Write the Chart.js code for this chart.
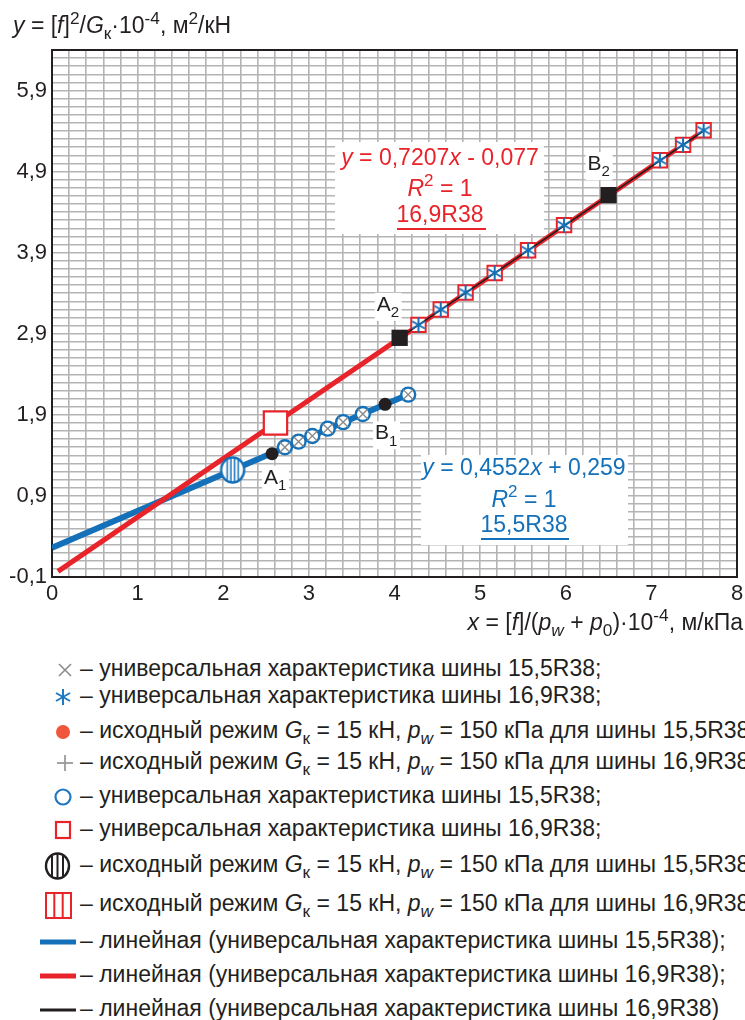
<!DOCTYPE html>
<html lang="ru">
<head>
<meta charset="utf-8">
<title>Универсальная характеристика шин</title>
<script src="https://cdn.jsdelivr.net/npm/chart.js@4.4.1/dist/chart.umd.min.js"></script>
<style>
  body { margin: 0; width: 745px; height: 1020px; overflow: hidden; background: #fff;
         font-family: "Liberation Sans", Arial, sans-serif; color: #231f20; position: relative; }
  #wrap { position: absolute; left: 0; top: 0; width: 745px; height: 640px; }
  .title { position: absolute; font-size: 23px; line-height: 22px; white-space: nowrap; }
  sup, sub { font-size: 75%; line-height: 0; position: relative; vertical-align: 0; }
  sup { top: -0.5em; }
  sub { top: 0.35em; }
  #legend { position: absolute; left: 0; top: 640px; width: 745px; height: 380px; }
  .row { position: absolute; left: 80px; font-size: 23px; line-height: 22px; white-space: nowrap; }
</style>
</head>
<body>
<div id="wrap"><canvas id="chart" width="745" height="640"></canvas></div>

<div class="title" style="left:13px; top:14px"><i>y</i> = [<i>f</i>]<sup>2</sup>/<i>G</i><sub>к</sub>·10<sup>-4</sup>, м<sup>2</sup>/кН</div>
<div class="title" style="right:2px; top:611px"><i>x</i> = [<i>f</i>]/(<i>p<sub>w</sub></i> + <i>p</i><sub>0</sub>)·10<sup>-4</sup>, м/кПа</div>

<div id="legend">
  <svg width="745" height="380" style="position:absolute;left:0;top:0">
    <g stroke="#8c8c8c" stroke-width="1.6"><line x1="59" y1="24" x2="71" y2="36"/><line x1="71" y1="24" x2="59" y2="36"/></g>
    <g stroke="#1f78c1" stroke-width="2"><line x1="63" y1="49" x2="63" y2="65"/><line x1="56" y1="53" x2="70" y2="61"/><line x1="70" y1="53" x2="56" y2="61"/></g>
    <circle cx="63" cy="92" r="7" fill="#f0563c"/>
    <g stroke="#9a9a9a" stroke-width="1.8"><line x1="57" y1="123" x2="73" y2="123"/><line x1="65" y1="115" x2="65" y2="131"/></g>
    <circle cx="63" cy="157" r="7.5" fill="none" stroke="#1f78c1" stroke-width="2.2"/>
    <rect x="56" y="182" width="14" height="16" fill="none" stroke="#e8232a" stroke-width="2.2"/>
    <g stroke="#231f20" stroke-width="2"><ellipse cx="57.5" cy="226" rx="11.5" ry="12.5" fill="none" stroke-width="2.4"/>
      <line x1="52" y1="215" x2="52" y2="237"/><line x1="57.5" y1="213.5" x2="57.5" y2="238.5"/><line x1="63" y1="215" x2="63" y2="237"/></g>
    <g stroke="#e8232a" stroke-width="2"><rect x="46" y="253" width="25" height="25" fill="none"/>
      <line x1="54.3" y1="253" x2="54.3" y2="278"/><line x1="62.7" y1="253" x2="62.7" y2="278"/></g>
    <line x1="40" y1="302" x2="76" y2="302" stroke="#1470b8" stroke-width="5"/>
    <line x1="40" y1="336" x2="76" y2="336" stroke="#e8232a" stroke-width="5"/>
    <line x1="40" y1="370" x2="76" y2="370" stroke="#231f20" stroke-width="3"/>
  </svg>
  <div class="row" style="top:17px">– универсальная характеристика шины 15,5R38;</div>
  <div class="row" style="top:44px">– универсальная характеристика шины 16,9R38;</div>
  <div class="row" style="top:79px">– исходный режим <i>G</i><sub>к</sub> = 15 кН, <i>p<sub>w</sub></i> = 150 кПа для шины 15,5R38;</div>
  <div class="row" style="top:110px">– исходный режим <i>G</i><sub>к</sub> = 15 кН, <i>p<sub>w</sub></i> = 150 кПа для шины 16,9R38;</div>
  <div class="row" style="top:144px">– универсальная характеристика шины 15,5R38;</div>
  <div class="row" style="top:177px">– универсальная характеристика шины 16,9R38;</div>
  <div class="row" style="top:213px">– исходный режим <i>G</i><sub>к</sub> = 15 кН, <i>p<sub>w</sub></i> = 150 кПа для шины 15,5R38;</div>
  <div class="row" style="top:252px">– исходный режим <i>G</i><sub>к</sub> = 15 кН, <i>p<sub>w</sub></i> = 150 кПа для шины 16,9R38;</div>
  <div class="row" style="top:289px">– линейная (универсальная характеристика шины 15,5R38);</div>
  <div class="row" style="top:323px">– линейная (универсальная характеристика шины 16,9R38);</div>
  <div class="row" style="top:357px">– линейная (универсальная характеристика шины 16,9R38)</div>
</div>

<script>
// universal characteristic, tyre 15,5R38
const tire155X = [2.72, 2.88, 3.04, 3.22, 3.40, 3.63, 4.16]
const tire155Y = [1.50, 1.57, 1.64, 1.73, 1.81, 1.91, 2.15]
// universal characteristic, tyre 16,9R38
const tire169X = [4.28, 4.54, 4.83, 5.17, 5.56, 5.98, 7.10, 7.37, 7.61]
const tire169Y = [3.01, 3.20, 3.41, 3.65, 3.93, 4.24, 5.04, 5.23, 5.41]
// initial mode Gк = 15 кН, pw = 150 кПа
const base155X = [2.11]
const base155Y = [1.22]
const base169X = [2.61]
const base169Y = [1.80]
// points A, B
const ab155X = [2.57, 3.89]
const ab155Y = [1.42, 2.03]
const ab169X = [4.06, 6.50]
const ab169Y = [2.85, 4.61]
// linear trends
const trend155X = [0, 4.18]
const trend155Y = [0.26, 2.16]
const trend169X = [0.07, 7.62]
const trend169Y = [-0.03, 5.41]
const fit169X = [4.06, 7.62]
const fit169Y = [2.85, 5.41]

const BLUE = "#1470b8"
const RED = "#e8232a"
const DARK = "#231f20"
const FONT = '"Liberation Sans", Arial, sans-serif'

const pts = (xs, ys) => xs.map((x, i) => ({ x, y: ys[i] }))

function hatchedCircle() {
  const c = document.createElement("canvas")
  c.width = 28
  c.height = 30
  const g = c.getContext("2d")
  g.beginPath()
  g.ellipse(14, 15, 11.5, 12.5, 0, 0, Math.PI * 2)
  g.fillStyle = "#fff"
  g.fill()
  g.save()
  g.clip()
  g.strokeStyle = BLUE
  g.lineWidth = 1.5
  for (const x of [8.5, 12.2, 15.8, 19.5]) {
    g.beginPath()
    g.moveTo(x, 0)
    g.lineTo(x, 30)
    g.stroke()
  }
  g.restore()
  g.beginPath()
  g.ellipse(14, 15, 11.5, 12.5, 0, 0, Math.PI * 2)
  g.strokeStyle = BLUE
  g.lineWidth = 2.4
  g.stroke()
  return c
}

function asterisk() {
  const c = document.createElement("canvas")
  c.width = 18
  c.height = 18
  const g = c.getContext("2d")
  g.strokeStyle = BLUE
  g.lineWidth = 2
  for (const a of [0, Math.PI / 3, (2 * Math.PI) / 3]) {
    g.beginPath()
    g.moveTo(9 + 7.5 * Math.sin(a), 9 - 7.5 * Math.cos(a))
    g.lineTo(9 - 7.5 * Math.sin(a), 9 + 7.5 * Math.cos(a))
    g.stroke()
  }
  return c
}

const line = (xs, ys, color, width, order) => ({
  data: pts(xs, ys), showLine: true, borderColor: color, borderWidth: width,
  pointRadius: 0, borderCapStyle: "butt", order,
})
const marks = (xs, ys, style, radius, fill, stroke, width, order) => ({
  data: pts(xs, ys), showLine: false, pointStyle: style, pointRadius: radius,
  backgroundColor: fill, borderColor: stroke, borderWidth: width, order,
})

const datasets = [
  line(trend155X, trend155Y, BLUE, 6, 20),
  line(trend169X, trend169Y, RED, 5, 19),
  marks(ab155X, ab155Y, "circle", 6.5, DARK, DARK, 0, 18),
  marks(base155X, base155Y, hatchedCircle(), 14, BLUE, BLUE, 0, 17),
  marks(tire155X, tire155Y, "circle", 7, "#fff", BLUE, 2.4, 16),
  marks(tire155X, tire155Y, "crossRot", 7, "#888", "#8a8a8a", 1.4, 15),
  marks(base169X, base169Y, "rect", 16.5, "#fff", RED, 2.2, 14),
  marks(tire169X, tire169Y, "rect", 10.2, "#fff", RED, 2, 13),
  marks(ab169X, ab169Y, "rect", 11.5, DARK, DARK, 0, 12),
  line(fit169X, fit169Y, DARK, 1.6, 11),
  marks(tire169X, tire169Y, asterisk(), 8, BLUE, BLUE, 0, 10),
]

// text runs: it = italic, sup/sub = small raised/lowered
function drawRuns(ctx, runs, x, baseline, size, color, align) {
  const fontOf = (r) => `${r.it ? "italic " : ""}${r.sup || r.sub ? Math.round(size * 0.72) : size}px ${FONT}`
  let total = 0
  for (const r of runs) {
    ctx.font = fontOf(r)
    r.w = ctx.measureText(r.t).width
    total += r.w
  }
  let cx = align === "center" ? x - total / 2 : x
  ctx.fillStyle = color
  ctx.textAlign = "left"
  ctx.textBaseline = "alphabetic"
  for (const r of runs) {
    ctx.font = fontOf(r)
    const dy = r.sup ? -size * 0.42 : r.sub ? size * 0.3 : 0
    ctx.fillText(r.t, cx, baseline + dy)
    cx += r.w
  }
  return total
}

const boxes = [
  { left: 335, top: 142, right: 544, bottom: 234, cx: 440, color: RED, base: [165, 196, 222], under: [397, 486, 229],
    eq: [{ t: "y", it: 1 }, { t: " = 0,7207" }, { t: "x", it: 1 }, { t: " - 0,077" }], name: "16,9R38" },
  { left: 421, top: 455, right: 628, bottom: 545, cx: 524, color: BLUE, base: [475, 507, 532], under: [481, 569, 539],
    eq: [{ t: "y", it: 1 }, { t: " = 0,4552" }, { t: "x", it: 1 }, { t: " + 0,259" }], name: "15,5R38" },
]

// point labels anchored to datasets (index, point) with pixel offsets
const pointLabels = [
  { ds: 2, i: 0, text: "A", sub: "1", dx: -8, dy: 30 },
  { ds: 2, i: 1, text: "B", sub: "1", dx: -10, dy: 35 },
  { ds: 8, i: 0, text: "A", sub: "2", dx: -23, dy: -27 },
  { ds: 8, i: 1, text: "B", sub: "2", dx: -21, dy: -25 },
]

const annotate = {
  id: "annotate",
  beforeDatasetsDraw(chart) {
    const { ctx, chartArea: a } = chart
    ctx.save()
    ctx.strokeStyle = DARK
    ctx.lineWidth = 2
    ctx.strokeRect(a.left, a.top, a.right - a.left, a.bottom - a.top)
    ctx.restore()
  },
  afterDatasetsDraw(chart) {
    const ctx = chart.ctx
    ctx.save()
    for (const b of boxes) {
      ctx.fillStyle = "#fff"
      ctx.fillRect(b.left, b.top, b.right - b.left, b.bottom - b.top)
      drawRuns(ctx, b.eq, b.cx, b.base[0], 23, b.color, "center")
      drawRuns(ctx, [{ t: "R", it: 1 }, { t: "2", sup: 1 }, { t: " = 1" }], b.cx, b.base[1], 23, b.color, "center")
      drawRuns(ctx, [{ t: b.name }], b.cx, b.base[2], 23, b.color, "center")
      ctx.fillStyle = b.color
      ctx.fillRect(b.under[0], b.under[2] - 1, b.under[1] - b.under[0], 2)
    }
    for (const l of pointLabels) {
      const p = chart.getDatasetMeta(l.ds).data[l.i]
      const x = p.x + l.dx
      const y = p.y + l.dy
      ctx.fillStyle = "#fff"
      ctx.fillRect(x - 2, y - 18, 27, 28)
      drawRuns(ctx, [{ t: l.text }, { t: l.sub, sub: 1 }], x, y, 21, DARK, "left")
    }
    ctx.restore()
  },
}

const tickFont = { family: FONT, size: 22 }
const gridStyle = { color: "#b4b4b4", lineWidth: 1.6, drawTicks: false }

new Chart(document.getElementById("chart"), {
  type: "scatter",
  data: { datasets },
  options: {
    responsive: false,
    animation: false,
    events: [],
    layout: { autoPadding: false, padding: { top: 50, right: 8, left: 0, bottom: 0 } },
    plugins: { legend: { display: false }, tooltip: { enabled: false } },
    scales: {
      x: {
        type: "linear",
        min: 0,
        max: 8,
        afterFit: (s) => {
          s.height = 63
          s.paddingLeft = 0
          s.paddingRight = 0
        },
        grid: gridStyle,
        border: { color: DARK, width: 2 },
        ticks: {
          stepSize: 0.2,
          autoSkip: false,
          maxRotation: 0,
          padding: 4,
          color: DARK,
          font: tickFont,
          callback: (v) => {
            const r = Math.round(v * 10)
            return r % 10 === 0 ? String(r / 10) : ""
          },
        },
      },
      y: {
        type: "linear",
        min: -0.1,
        max: 6.4,
        afterFit: (s) => {
          s.width = 52
          s.paddingTop = 0
          s.paddingBottom = 0
        },
        grid: gridStyle,
        border: { color: DARK, width: 2 },
        ticks: {
          stepSize: 0.1,
          autoSkip: false,
          padding: 5,
          color: DARK,
          font: tickFont,
          callback: (v) => {
            const r = Math.round(v * 10)
            return (r + 1) % 10 === 0 ? (r / 10).toFixed(1).replace(".", ",") : ""
          },
        },
      },
    },
  },
  plugins: [annotate],
})
</script>
</body>
</html>
